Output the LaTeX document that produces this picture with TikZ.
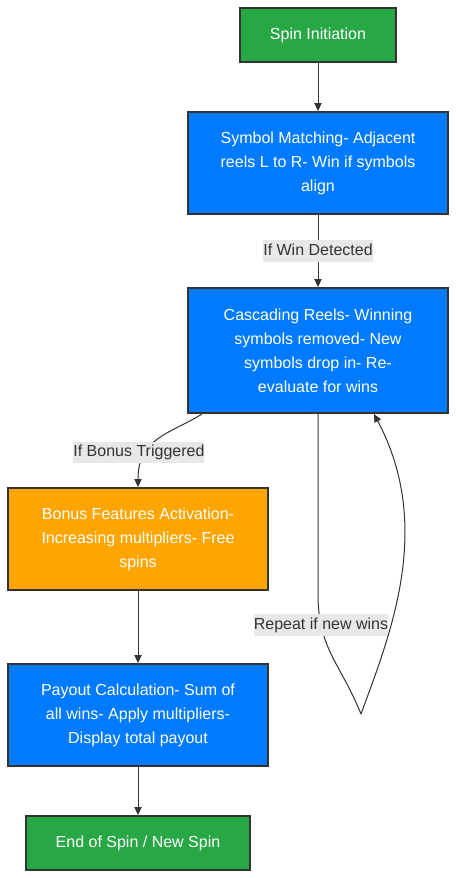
\documentclass[tikz,border=0pt]{standalone}
\usepackage{fontspec}
\setmainfont{Liberation Sans}
\usetikzlibrary{positioning,arrows.meta}
\definecolor{edgegray}{HTML}{333333}
\definecolor{startgreen}{HTML}{28A745}
\definecolor{stepblue}{HTML}{007BFF}
\definecolor{bonusorange}{HTML}{FFA500}
\definecolor{labelgray}{HTML}{E8E8E8}

\begin{document}
\begin{tikzpicture}[
    box/.style={draw=edgegray, line width=1.5pt, text=white, align=center,
      font=\fontsize{12pt}{18pt}\selectfont, inner sep=0pt},
    greenbox/.style={box, fill=startgreen, minimum height=40.5pt},
    bluebox/.style={box, fill=stepblue, minimum width=195pt, minimum height=76.5pt},
    orangebox/.style={box, fill=bonusorange, minimum width=195pt, minimum height=76.5pt},
    flow/.style={draw=edgegray, line width=0.75pt, -{Triangle[length=6pt,width=5.5pt]}},
    lbl/.style={fill=labelgray, text=edgegray, inner xsep=0pt, inner ysep=2pt,
      font=\fontsize{12pt}{14pt}\selectfont, text height=9pt, text depth=3pt}
  ]
  \useasboundingbox (0,0) rectangle (342pt,-658.5pt);
  \node[greenbox, minimum width=117pt] (Start) at (238.5pt,-26.25pt) {Spin Initiation};
  \node[bluebox, on grid, below=96pt of Start] (Match)
    {Symbol Matching- Adjacent\\reels L to R- Win if symbols\\align};
  \node[bluebox, on grid, below=140.625pt of Match, minimum height=93.75pt] (Cascade)
    {Cascading Reels- Winning\\symbols removed- New\\symbols drop in- Re-\\evaluate for wins};
  \node[orangebox, on grid, below left=141.375pt and 135pt of Cascade] (Bonus)
    {Bonus Features Activation-\\Increasing multipliers- Free\\spins};
  \node[bluebox, on grid, below=132pt of Bonus] (Payout)
    {Payout Calculation- Sum of\\all wins- Apply multipliers-\\Display total payout};
  \node[greenbox, on grid, below=96pt of Payout, minimum width=168pt] (End) {End of Spin / New Spin};
  \coordinate[on grid, below right=272.625pt and 32.25pt of Cascade] (LoopTip);

  \draw[flow] (Start) -- (Match);
  \draw[flow] (Match) -- node[lbl] {If Win Detected} (Cascade);
  \draw[flow] ([xshift=11.25pt]Cascade.south west) to[out=-148,in=90,in looseness=1.3]
    node[lbl, pos=0.64, xshift=-7.5pt, yshift=-3pt] {If Bonus Triggered} (Bonus.north);
  \draw[draw=edgegray, line width=0.75pt] (Cascade.south) -- ++(0,-135pt) to[out=-90,in=112,looseness=1.1]
    node[lbl, pos=0.22] {Repeat if new wins} (LoopTip);
  \draw[flow] (LoopTip) to[out=70,in=-62,out looseness=0.7,in looseness=1.1] ([xshift=42pt]Cascade.south);
  \draw[flow] (Bonus) -- (Payout);
  \draw[flow] (Payout) -- (End);
\end{tikzpicture}
\end{document}
